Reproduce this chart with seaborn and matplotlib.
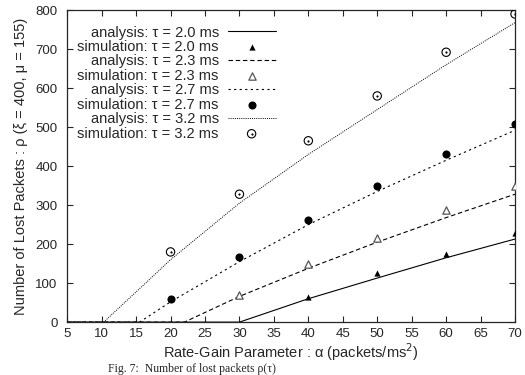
import numpy as np
import pandas as pd
import seaborn as sns
import matplotlib.pyplot as plt
from matplotlib.legend_handler import HandlerTuple

# analysis curves
x_a20 = [5, 30, 40, 50, 60, 70]
y_a20 = [0, 0, 60, 113, 165, 213]
x_a23 = [5, 22, 30, 40, 50, 60, 70]
y_a23 = [0, 0, 66, 138, 205, 268, 328]
x_a27 = [5, 15.5, 20, 30, 40, 50, 60, 70]
y_a27 = [0, 0, 52, 155, 250, 335, 415, 492]
x_a32 = [5, 10.3, 20, 30, 40, 50, 60, 70]
y_a32 = [0, 0, 160, 305, 430, 545, 660, 768]

# simulation points
x_s20 = [40, 50, 60, 70]
y_s20 = [65, 125, 175, 228]
x_s23 = [30, 40, 50, 60, 70]
y_s23 = [70, 148, 215, 288, 348]
x_s27 = [20, 30, 40, 50, 60, 70]
y_s27 = [60, 167, 262, 348, 432, 508]
x_s32 = [20, 30, 40, 50, 60, 70]
y_s32 = [180, 328, 465, 580, 692, 790]

labels = ["analysis: τ = 2.0 ms", "simulation: τ = 2.0 ms",
          "analysis: τ = 2.3 ms", "simulation: τ = 2.3 ms",
          "analysis: τ = 2.7 ms", "simulation: τ = 2.7 ms",
          "analysis: τ = 3.2 ms", "simulation: τ = 3.2 ms"]

sns.set_style("ticks")
plt.rcParams['font.family'] = ['Liberation Sans', 'DejaVu Sans']
fs = 9.5
fs_lab = 10.5

fig = plt.figure(figsize=(5.25, 3.75), dpi=100)
ax = fig.add_axes([0.128, 0.141, 0.853, 0.832])

lw = 0.8
sns.lineplot(x=x_a20, y=y_a20, ax=ax, color='black', lw=lw, linestyle='-')
h_a20 = ax.lines[-1]
sns.lineplot(x=x_a23, y=y_a23, ax=ax, color='black', lw=lw, linestyle=(0, (4, 2.5)))
h_a23 = ax.lines[-1]
sns.lineplot(x=x_a27, y=y_a27, ax=ax, color='black', lw=lw, linestyle=(0, (2, 3)))
h_a27 = ax.lines[-1]
sns.lineplot(x=x_a32, y=y_a32, ax=ax, color='black', lw=0.7, linestyle=(0, (1, 1.2)))
h_a32 = ax.lines[-1]

h_s20 = ax.scatter(x_s20, y_s20, marker='^', s=20, color='black', linewidths=0, zorder=3)
h_s23 = ax.scatter(x_s23, y_s23, marker='^', s=28, facecolors='white', edgecolors='#555555', linewidths=0.9, zorder=3)
h_s27 = ax.scatter(x_s27, y_s27, marker='o', s=34, color='black', linewidths=0, zorder=3)
h_s32a = ax.scatter(x_s32, y_s32, marker='o', s=36, facecolors='none', edgecolors='black', linewidths=0.8, zorder=3)
h_s32b = ax.scatter(x_s32, y_s32, marker='o', s=2.5, color='black', linewidths=0, zorder=3)

ax.set_xlim(5, 70)
ax.set_ylim(0, 800)
ax.set_xticks(np.arange(5, 71, 5))
ax.set_yticks(np.arange(0, 801, 100))
ax.tick_params(direction='in', top=True, right=True, length=4, width=0.8, labelsize=fs)
ax.tick_params(axis='x', pad=4)
ax.tick_params(axis='y', pad=7)
for s in ax.spines.values():
    s.set_linewidth(0.9)
    s.set_visible(True)

ax.set_xlabel("Rate-Gain Parameter : α (packets/ms$^2$)", fontsize=fs_lab, labelpad=1.5)
ax.set_ylabel("Number of Lost Packets : ρ (ξ = 400, μ = 155)", fontsize=fs_lab, labelpad=5)

handles = [h_a20, h_s20, h_a23, h_s23, h_a27, h_s27, h_a32, (h_s32a, h_s32b)]
ax.legend(handles, labels, loc='upper right', bbox_to_anchor=(0.472, 0.96),
          frameon=False, markerfirst=False, fontsize=fs_lab, labelspacing=0.03,
          handlelength=3.3, handletextpad=0.6, borderpad=0.2, borderaxespad=0,
          handler_map={tuple: HandlerTuple(ndivide=1, pad=0)})

fig.text(0.205, 0.0, "Fig. 7:  Number of lost packets ρ(τ)", fontsize=8.5,
         family='Liberation Serif', va='bottom', ha='left')

fig.savefig("out.png", dpi=100)
